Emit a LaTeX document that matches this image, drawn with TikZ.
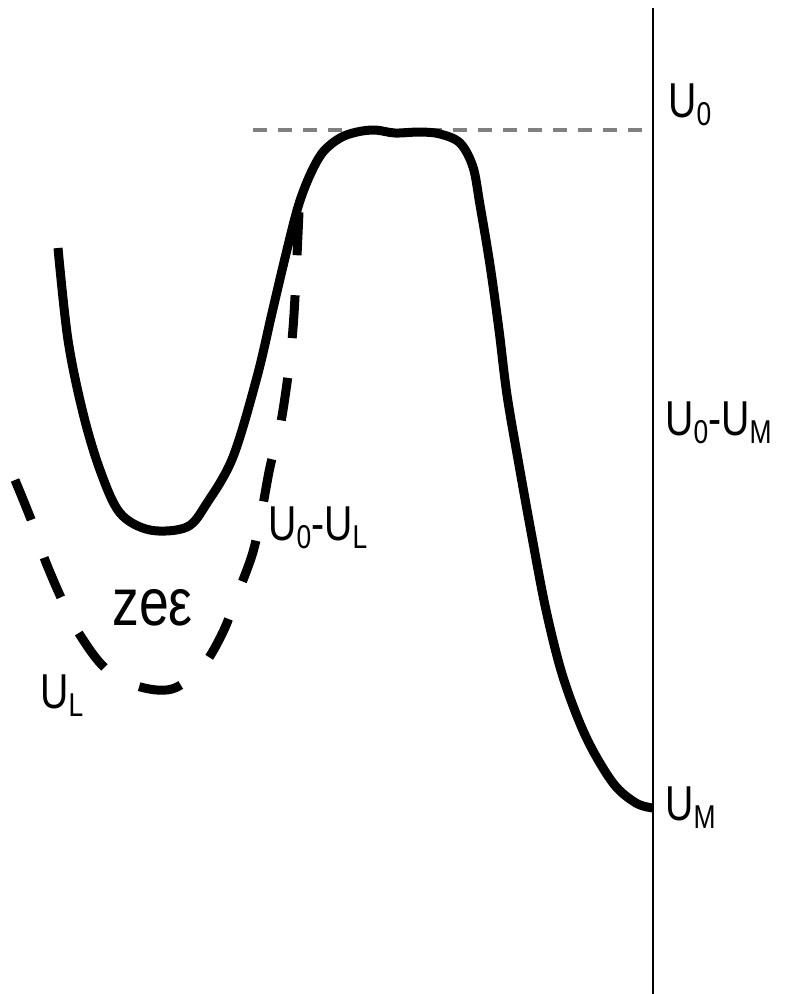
\documentclass[tikz,border=0pt]{standalone}
\usepackage{fontspec}
\setmainfont{Liberation Sans}
\newcommand\sbx[1]{\raisebox{-0.17em}{\fontsize{33}{33}\selectfont #1}}
\newcommand\lab[1]{\scalebox{0.8}[1]{#1}}
\tikzset{
  lbl/.style={anchor=base west, inner sep=0pt, font=\fontsize{49}{50}\selectfont},
  curve/.style={line width=9pt, line cap=butt, line join=round},
  dcurve/.style={line width=9pt, line cap=butt, dash pattern=on 43pt off 40pt},
  axisline/.style={line width=1.8pt},
  levelline/.style={line width=4pt, gray, dash pattern=on 14pt off 11pt}
}
\begin{document}
\begin{tikzpicture}[x=1pt,y=-1pt]
\useasboundingbox (0,0) rectangle (787,994);
% axis
\coordinate (axtop) at (653,8);
\coordinate (axbot) at (653,994);
\draw[axisline] (axtop) -- (axbot);
% U0 level
\coordinate (lvA) at (253,130);
\coordinate (lvB) at (653,130);
\draw[levelline] (lvA) -- (lvB);
% solid potential curve
\draw[curve] plot[smooth, tension=0.55] coordinates {
 (58,248) (68,340) (83,413) (100,470) (120,513) (150,530) (187,527)
 (207,503) (233,457) (257,377) (272,313) (285,258) (298,207) (310,175)
 (323,152) (340,138) (357,132) (375,130) (395,133) (420,132) (440,134)
 (460,143) (473,167) (480,205) (490,265) (499,330) (507,395) (519,465)
 (532,537) (546,610) (563,677) (586,737) (613,783) (636,803) (653,808)};
% dashed curve
\draw[dcurve] plot[smooth, tension=0.55] coordinates {
 (15,480) (32,522) (45,560) (63,602) (80,635) (105,668) (137,686)
 (172,689) (202,667) (223,632) (238,593) (253,552) (262,510) (270,467)
 (280,427) (287,383) (292,340) (295,297) (299,212)};
% labels
\node[lbl] (u0) at (668,117) {\lab{U\sbx{0}}};
\node[lbl] (u0um) at (665,435) {\lab{U\sbx{0}-U\sbx{M}}};
\node[lbl] (u0ul) at (268,540) {\lab{U\sbx{0}-U\sbx{L}}};
\node[lbl, font=\fontsize{67}{68}\selectfont] (zee) at (112,625) {\lab{zeε}};
\node[lbl] (ul) at (40,708) {\lab{U\sbx{L}}};
\node[lbl] (um) at (665,820) {\lab{U\sbx{M}}};
\end{tikzpicture}
\end{document}
